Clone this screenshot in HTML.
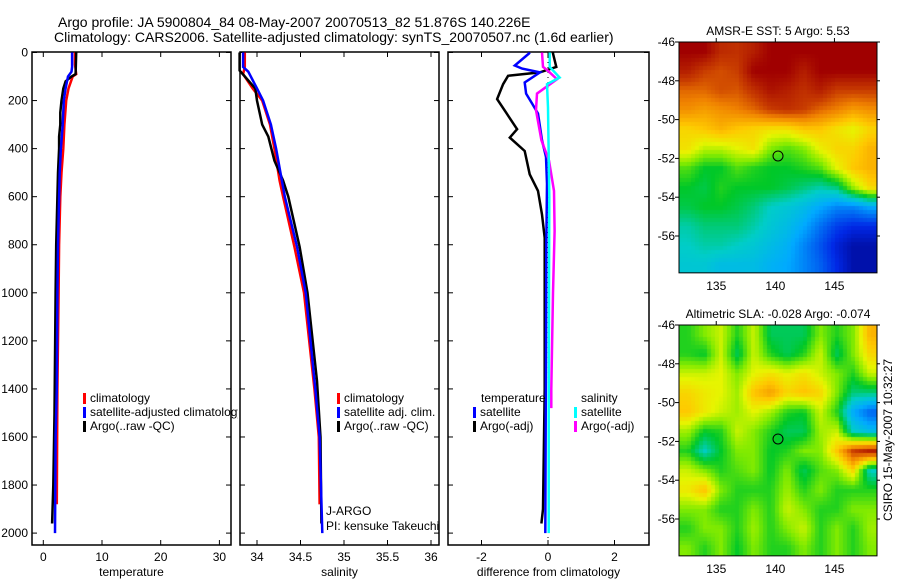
<!DOCTYPE html>
<html><head><meta charset="utf-8"><style>
html,body{margin:0;padding:0;background:#fff;width:900px;height:580px;overflow:hidden}
svg text{font-family:"Liberation Sans",sans-serif;font-size:12px;fill:#000}
</style></head><body>
<svg id="fig" width="900" height="580" viewBox="0 0 900 580" xmlns="http://www.w3.org/2000/svg">
<defs><clipPath id="clipLeg"><rect x="0" y="380" width="238" height="60"/></clipPath></defs>
<text x="58" y="27" style="font-size:14px">Argo profile: JA 5900804_84 08-May-2007 20070513_82 51.876S 140.226E</text>
<text x="54" y="42" style="font-size:14px">Climatology: CARS2006. Satellite-adjusted climatology: synTS_20070507.nc (1.6d earlier)</text>
<g id="g"></g>
</svg>
<script>
// ---------- data ----------
const depthTicks=[0,200,400,600,800,1000,1200,1400,1600,1800,2000];
const tempTicks=[0,10,20,30];
const salTicks=[34,34.5,35,35.5,36];
const salTickLabels=["34","34.5","35","35.5","36"];
const diffTicks=[-2,0,2];
// temperature profiles
const tClimDepth=[0,50,90,100,150,200,300,400,500,600,800,1000,1400,1880];
const tClimVal=[5.4,5.4,5.6,5.0,4.3,3.9,3.6,3.4,3.1,2.9,2.7,2.6,2.4,2.3];
const tSatDepth=[0,60,80,100,150,200,300,400,500,600,800,1000,1400,1600,2000];
const tSatVal=[4.9,4.9,4.8,4.2,3.8,3.5,3.3,3.0,2.8,2.7,2.5,2.4,2.3,2.1,2.0];
const tArgoDepth=[0,90,100,120,150,200,250,300,350,400,500,600,800,1000,1500,1800,1960];
const tArgoVal=[5.6,5.5,4.8,3.8,3.4,3.1,2.9,2.9,2.7,2.7,2.5,2.4,2.2,2.1,1.9,1.7,1.5];
// salinity profiles
const sClimDepth=[0,60,90,150,200,300,400,533,600,808,1000,1400,1600,1880];
const sClimVal=[33.86,33.86,33.84,33.95,34.06,34.15,34.2,34.26,34.3,34.43,34.54,34.66,34.71,34.72];
const sSatDepth=[0,60,80,150,200,300,400,600,808,1000,1400,1600,2000];
const sSatVal=[33.84,33.84,33.9,34.0,34.07,34.16,34.22,34.32,34.46,34.56,34.67,34.72,34.75];
const sArgoDepth=[0,75,150,200,300,350,450,533,600,808,1000,1367,1600,1960];
const sArgoVal=[33.8,33.8,33.98,34.0,34.06,34.13,34.2,34.3,34.36,34.49,34.58,34.69,34.73,34.74];
// difference profiles
const dTSatDepth=[0,4,54,67,83,125,171,212,254,365,435,546,800,1200,2000];
const dTSatVal=[-0.55,-0.57,-1.0,-0.78,-0.24,-0.7,-0.66,-0.48,-0.3,-0.18,-0.06,-0.03,-0.05,-0.06,-0.08];
const dTArgoDepth=[0,4,60,83,97,132,194,250,319,354,410,507,576,674,771,1000,1400,1900,1960];
const dTArgoVal=[0.15,0.15,0.25,-0.25,-1.2,-1.35,-1.53,-1.26,-0.93,-1.15,-0.7,-0.55,-0.3,-0.18,-0.1,-0.1,-0.1,-0.15,-0.2];
const dSSatDepth=[0,60,104,132,229,600,1000,1500,2000];
const dSSatVal=[0.05,0.05,0.35,-0.03,0.0,0.04,0.03,0.02,0.02];
const dSArgoDepth=[0,60,76,111,171,240,365,450,576,743,1000,1400,1480];
const dSArgoVal=[-0.18,-0.15,0.0,0.27,-0.33,-0.36,-0.2,0.03,0.18,0.2,0.15,0.1,0.1];
// maps (values 0..1 on jet-like scale), rows lat -46.5..-57.5, cols lon 132.6..148
const sstGrid=[
[1,1,.93,.92,.95,1,1,1,1,1,1,1],
[.95,.9,.88,.9,1,1,1,.95,1,1,1,1],
[.85,.85,.88,.87,.92,.97,.95,.92,.95,.9,.9,.9],
[.8,.78,.8,.82,.85,.9,.92,.9,.85,.82,.78,.8],
[.7,.72,.75,.72,.7,.68,.68,.72,.72,.68,.65,.7],
[.68,.62,.62,.65,.68,.58,.55,.58,.66,.7,.7,.75],
[.55,.5,.5,.55,.52,.5,.5,.52,.55,.65,.72,.75],
[.5,.48,.52,.5,.5,.5,.48,.45,.42,.45,.6,.7],
[.48,.5,.5,.48,.45,.4,.38,.35,.3,.25,.25,.3],
[.42,.45,.45,.45,.42,.38,.35,.3,.22,.15,.12,.12],
[.4,.42,.42,.4,.38,.35,.32,.25,.18,.1,.05,.05],
[.38,.38,.35,.35,.35,.32,.3,.25,.2,.12,.05,.05]];
const slaGrid=[
[.52,.58,.63,.52,.63,.47,.47,.47,.58,.52,.58,.75],
[.52,.5,.63,.47,.63,.52,.47,.52,.63,.47,.58,.7],
[.63,.63,.65,.58,.65,.68,.65,.68,.63,.58,.52,.63],
[.7,.67,.65,.6,.73,.78,.7,.73,.7,.58,.45,.45],
[.72,.67,.63,.6,.65,.6,.52,.5,.63,.52,.3,.2],
[.6,.5,.52,.63,.58,.52,.47,.47,.6,.63,.4,.35],
[.52,.4,.5,.58,.58,.5,.52,.58,.58,.72,.9,.95],
[.63,.58,.52,.55,.58,.5,.58,.47,.55,.58,.7,.4],
[.67,.73,.58,.52,.52,.52,.6,.52,.58,.52,.52,.52],
[.58,.58,.52,.52,.58,.52,.63,.58,.52,.52,.58,.58],
[.52,.58,.58,.52,.6,.52,.58,.63,.52,.58,.52,.6],
[.58,.52,.58,.5,.58,.52,.52,.58,.52,.58,.52,.58]];
const lonTicks=[135,140,145];
const latTicks=[-46,-48,-50,-52,-54,-56];
const argoLon=140.226, argoLat=-51.876;

// ---------- helpers ----------
const NS="http://www.w3.org/2000/svg";
const G=document.getElementById('g');
function el(tag,attrs,parent){const e=document.createElementNS(NS,tag);for(const k in attrs)e.setAttribute(k,attrs[k]);(parent||G).appendChild(e);return e;}
function txt(x,y,s,anchor,name,extra){const t=el('text',Object.assign({x:x,y:y,'text-anchor':anchor||'start'},extra||{}));t.textContent=s;


return t;}
const yD=d=>52.5+d*0.2403;
const PT=52,PB=545;
const panels=[
 {x0:32,x1:231,f:v=>43.3+v*5.87,ticks:tempTicks,labels:tempTicks.map(String),xl:'temperature',name:'temperature'},
 {x0:240,x1:439,f:v=>257+(v-34)*87,ticks:salTicks,labels:salTickLabels,xl:'salinity',name:'salinity'},
 {x0:448,x1:649,f:v=>548+v*33.25,ticks:diffTicks,labels:diffTicks.map(String),xl:'difference from climatology',name:'difference'}];
function stepPath(depths,vals,fx){let p='';for(let i=0;i<depths.length;i++){const x=fx(vals[i]).toFixed(1),y=yD(depths[i]).toFixed(1);p+=(i?'L':'M')+x+','+y;}return p;}
function line(depths,vals,fx,color,name){const p=el('path',{d:stepPath(depths,vals,fx),fill:'none',stroke:color,'stroke-width':2.5,'stroke-linejoin':'miter'});


}
panels.forEach((P,i)=>{
 const fr=el('rect',{x:P.x0,y:PT,width:P.x1-P.x0,height:PB-PT,fill:'none',stroke:'#000','stroke-width':1.5});
 
 
 P.ticks.forEach((v,j)=>{const x=P.f(v);
  el('line',{x1:x,x2:x,y1:PT,y2:PT+5,stroke:'#000'});el('line',{x1:x,x2:x,y1:PB,y2:PB-5,stroke:'#000'});
  txt(x,561,P.labels[j],'middle',P.name+'-x-tick-label');});
 txt((P.x0+P.x1)/2,576,P.xl,'middle',P.name+'-x-axis-title');
 depthTicks.forEach(d=>{const y=yD(d);el('line',{x1:P.x0,x2:P.x0+5,y1:y,y2:y,stroke:'#000'});el('line',{x1:P.x1,x2:P.x1-5,y1:y,y2:y,stroke:'#000'});
  if(i===0)txt(28,y+4,String(d),'end','depth-tick-label');});
});
// zero line on diff panel
el('line',{x1:548,x2:548,y1:PT,y2:PB,stroke:'#000','stroke-dasharray':'1,4'});
const [P1,P2,P3]=panels;
line(tClimDepth,tClimVal,P1.f,'#f00','temp-climatology-line');
line(tArgoDepth,tArgoVal,P1.f,'#000','temp-argo-line');
line(tSatDepth,tSatVal,P1.f,'#00f','temp-satellite-line');
line(sClimDepth,sClimVal,P2.f,'#f00','sal-climatology-line');
line(sArgoDepth,sArgoVal,P2.f,'#000','sal-argo-line');
line(sSatDepth,sSatVal,P2.f,'#00f','sal-satellite-line');
line(dTArgoDepth,dTArgoVal,P3.f,'#000','diff-temp-argo-line');
line(dTSatDepth,dTSatVal,P3.f,'#00f','diff-temp-satellite-line');
line(dSArgoDepth,dSArgoVal,P3.f,'#f0f','diff-sal-argo-line');
line(dSSatDepth,dSSatVal,P3.f,'#0ff','diff-sal-satellite-line');
// legends
function leg(x,y,color,label,name,clip){const m=el('rect',{x:x,y:y-9,width:3,height:11,fill:color});
 
 
 const t=txt(x+7,y,label,'start',name);if(clip)t.setAttribute('clip-path','url(#clipLeg)');}
leg(83,402,'#f00','climatology','legend-temp-climatology');
leg(83,416,'#00f','satellite-adjusted climatology','legend-temp-satellite',true);
leg(83,430,'#000','Argo(..raw -QC)','legend-temp-argo');
leg(337,402,'#f00','climatology','legend-sal-climatology');
leg(337,416,'#00f','satellite adj. clim.','legend-sal-satellite');
leg(337,430,'#000','Argo(..raw -QC)','legend-sal-argo');
txt(481,402,'temperature','start','legend-diff-temp-header');
leg(473,416,'#00f','satellite','legend-diff-temp-satellite');
leg(473,430,'#000','Argo(-adj)','legend-diff-temp-argo');
txt(581,402,'salinity','start','legend-diff-sal-header');
leg(574,416,'#0ff','satellite','legend-diff-sal-satellite');
leg(574,430,'#f0f','Argo(-adj)','legend-diff-sal-argo');
txt(326,515,'J-ARGO','start','program-label');
txt(326,530,'PI: kensuke Takeuchi','start','pi-label');
// ---------- maps ----------
const jetStops=[[0,[0,0,128]],[.12,[0,40,230]],[.3,[0,170,255]],[.4,[0,205,200]],[.5,[0,200,40]],[.58,[130,235,0]],[.65,[230,245,0]],[.72,[255,200,0]],[.82,[240,130,0]],[.9,[200,60,0]],[1,[160,0,0]]];
function jet(v){v=Math.max(0,Math.min(1,v));for(let i=1;i<jetStops.length;i++){if(v<=jetStops[i][0]){const a=jetStops[i-1],b=jetStops[i],t=(v-a[0])/(b[0]-a[0]);return a[1].map((c,k)=>Math.round(c+(b[1][k]-c)*t));}}return jetStops[jetStops.length-1][1];}
const lonMin=131.85,lonMax=148.6,latTop=-46,latBot=-57.9;
function drawMap(grid,top,title,name){
 const x0=679,x1=877, y0=top, pxLat=19.4;
 const xl=lon=>x0+(lon-lonMin)*(x1-x0)/(lonMax-lonMin);
 const yl=lat=>y0+(latTop-lat)*pxLat;
 const y1=yl(latBot);
 const fo=el('foreignObject',{x:x0,y:y0,width:x1-x0,height:y1-y0});
 const c=document.createElement('canvas');c.width=x1-x0;c.height=Math.round(y1-y0);
 
 
 c.style.display='block';fo.appendChild(c);
 const ctx=c.getContext('2d');const R=grid.length,C=grid[0].length;
 const cs=4;
 for(let py=0;py<c.height;py+=cs)for(let px=0;px<c.width;px+=cs){
  const lon=lonMin+(px+cs/2)/(x1-x0)*(lonMax-lonMin), lat=latTop-(py+cs/2)/pxLat;
  let gc=(lon-132.6)/1.4, gr=(-46.5-lat)/1;
  gc=Math.max(0,Math.min(C-1.001,gc));gr=Math.max(0,Math.min(R-1.001,gr));
  const c0=Math.floor(gc),r0=Math.floor(gr),fc=gc-c0,fr=gr-r0;
  const v=grid[r0][c0]*(1-fc)*(1-fr)+grid[r0][c0+1]*fc*(1-fr)+grid[r0+1][c0]*(1-fc)*fr+grid[r0+1][c0+1]*fc*fr;
  const col=jet(v);ctx.fillStyle='rgb('+col+')';ctx.fillRect(px,py,cs,cs);}
 const fr=el('rect',{x:x0,y:y0,width:x1-x0,height:y1-y0,fill:'none',stroke:'#000','stroke-width':1});
 
 
 lonTicks.forEach(l=>{const x=xl(l);el('line',{x1:x,x2:x,y1:y0-4,y2:y0,stroke:'#000'});txt(x,y1+17,String(l),'middle',name+'-lon-tick-label');});
 latTicks.forEach(l=>{const y=yl(l);el('line',{x1:x0-4,x2:x0,y1:y,y2:y,stroke:'#000'});el('line',{x1:x1,x2:x1+3,y1:y,y2:y,stroke:'#000'});txt(x0-4,y+4,String(l),'end',name+'-lat-tick-label');});
 const m=el('circle',{cx:xl(argoLon),cy:yl(argoLat),r:5,fill:'none',stroke:'#000','stroke-width':1});
 
 
 txt((x0+x1)/2,y0-7,title,'middle',name+'-title');
}
drawMap(sstGrid,42,'AMSR-E SST: 5 Argo: 5.53','sst-map');
drawMap(slaGrid,325,'Altimetric SLA: -0.028 Argo: -0.074','sla-map');
txt(0,0,'CSIRO 15-May-2007 10:32:27','middle','timestamp-label',{transform:'translate(892,440) rotate(-90)'});
</script>
</body></html>
